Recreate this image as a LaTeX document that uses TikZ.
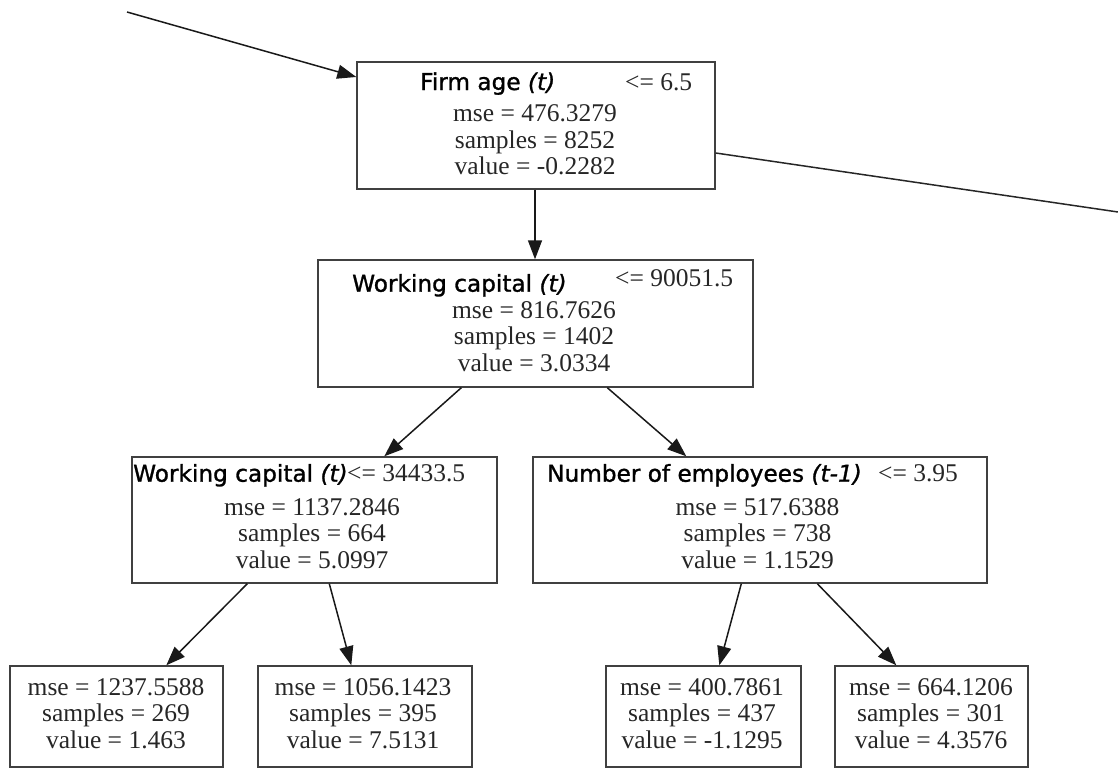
\documentclass[tikz,border=0pt]{standalone}
\usepackage{fontspec}
\setmainfont{Liberation Serif}
\newfontfamily\hdfont[FakeBold=1.2]{DejaVu Sans}
\usetikzlibrary{arrows.meta,calc}
\tikzset{
  box/.style={draw=black!75, line width=1.4pt, rectangle, inner sep=0pt},
  txt/.style={inner sep=0pt, font=\fontsize{25.5}{27}\selectfont, text=black!85},
  hd/.style={inner sep=0pt, font=\hdfont\fontsize{23.2}{27}\selectfont, text=black, anchor=base west},
  thr/.style={inner sep=0pt, font=\fontsize{25.5}{27}\selectfont, text=black!85, anchor=base west},
  arr/.style={draw=black!90, line width=1.5pt, -{Triangle[length=19pt,width=14pt]}},
  ln/.style={draw=black!85, line width=1.5pt}
}
\newcommand\statlines[6]{%
  \node[txt,anchor=base] (#1-m) at (#2,#3) {mse = #4};
  \node[txt,anchor=base] (#1-s) at (#2,#3+26.7) {samples = #5};
  \node[txt,anchor=base] (#1-v) at (#2,#3+53.4) {value = #6};}
\begin{document}
\begin{tikzpicture}[x=1pt,y=-1pt]
\useasboundingbox (0,0) rectangle (1118,768);
% boxes
\node[box, minimum width=358pt, minimum height=127pt] (root) at (536,125.5) {};
\node[box, minimum width=435pt, minimum height=127pt] (n2) at (535.5,323.5) {};
\node[box, minimum width=365pt, minimum height=126pt] (n3l) at (314.5,520) {};
\node[box, minimum width=454pt, minimum height=126pt] (n3r) at (760,520) {};
\node[box, minimum width=213pt, minimum height=101pt] (l1) at (116.5,716.5) {};
\node[box, minimum width=214pt, minimum height=101pt] (l2) at (365,716.5) {};
\node[box, minimum width=195pt, minimum height=101pt] (l3) at (703.5,716.5) {};
\node[box, minimum width=193pt, minimum height=101pt] (l4) at (931.5,716.5) {};
% headings
\node[hd] (root-h) at (420,90) {Firm age \textit{(t)}};
\node[thr] (root-t) at (625,90) {<= 6.5};
\node[hd] (n2-h) at (352,291.7) {Working capital \textit{(t)}};
\node[thr] (n2-t) at (615,286.7) {<= 90051.5};
\node[hd] (n3l-h) at (133,481.7) {Working capital \textit{(t)}};
\node[thr] (n3l-t) at (347,481.7) {<= 34433.5};
\node[hd] (n3r-h) at (547,481.7) {Number of employees \textit{(t-1)}};
\node[thr] (n3r-t) at (878,481.7) {<= 3.95};
% stats
\statlines{root}{535}{121.5}{476.3279}{8252}{-0.2282}
\statlines{n2}{534}{318}{816.7626}{1402}{3.0334}
\statlines{n3l}{312}{515}{1137.2846}{664}{5.0997}
\statlines{n3r}{757.5}{515}{517.6388}{738}{1.1529}
\statlines{l1}{116}{695}{1237.5588}{269}{1.463}
\statlines{l2}{363}{695}{1056.1423}{395}{7.5131}
\statlines{l3}{702}{695}{400.7861}{437}{-1.1295}
\statlines{l4}{931}{695}{664.1206}{301}{4.3576}
% free ends
\coordinate (inc) at (127,12);
\coordinate (outc) at (1118,212);
% connectors
\draw[arr] (inc) -- ([yshift=48.5pt]root.west);
\draw[ln] ([yshift=-27.5pt]root.east) -- (outc);
\draw[arr] ([xshift=-1pt]root.south) -- ([xshift=-0.5pt]n2.north);
\draw[arr] ([xshift=144pt]n2.south west) -- ([xshift=253pt]n3l.north west);
\draw[arr] ([xshift=290pt]n2.south west) -- ([xshift=154pt]n3r.north west);
\draw[arr] ([xshift=116pt]n3l.south west) -- ([xshift=157pt]l1.north west);
\draw[arr] ([xshift=198pt]n3l.south west) -- ([xshift=94pt]l2.north west);
\draw[arr] ([xshift=209pt]n3r.south west) -- ([xshift=114pt]l3.north west);
\draw[arr] ([xshift=285pt]n3r.south west) -- ([xshift=62pt]l4.north west);
\end{tikzpicture}
\end{document}
